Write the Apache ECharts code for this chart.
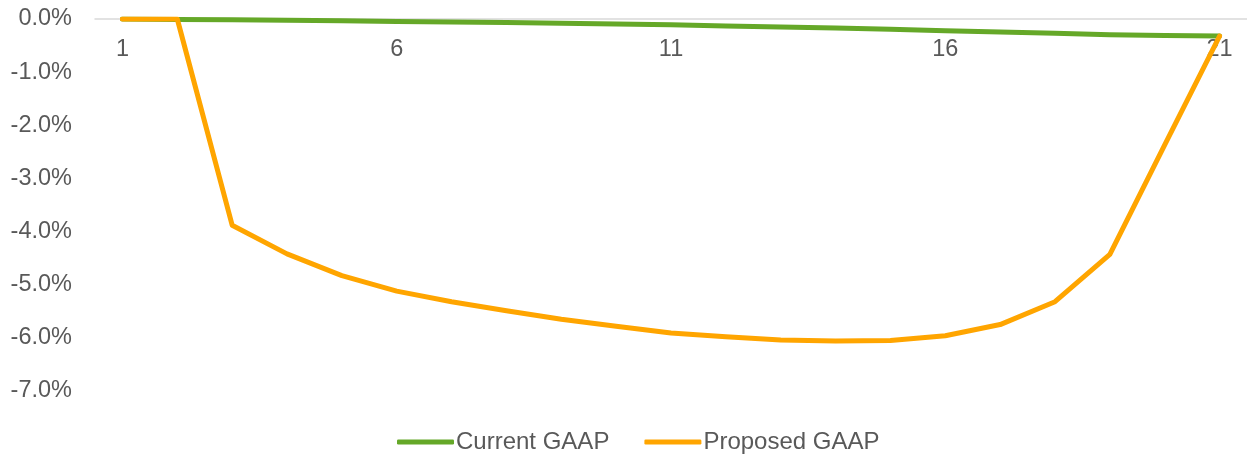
<!DOCTYPE html>
<html>
<head>
<meta charset="utf-8">
<script src="https://cdn.jsdelivr.net/npm/echarts@6/dist/echarts.min.js"></script>
<style>
  html, body { margin: 0; padding: 0; background: #fff; }
  #chart { width: 1247px; height: 454px; }
</style>
</head>
<body>
<div id="chart"></div>
<script>
// Periods 1..21
const periods = Array.from({ length: 21 }, (_, i) => String(i + 1));

// Change in value, percent
const currentGaap = [0, -0.01, -0.015, -0.025, -0.035, -0.045, -0.055, -0.065, -0.08, -0.095,
  -0.11, -0.13, -0.15, -0.17, -0.195, -0.22, -0.245, -0.27, -0.295, -0.31, -0.32];
const proposedGaap = [0, 0, -3.88, -4.42, -4.83, -5.12, -5.32, -5.49, -5.65, -5.78,
  -5.91, -5.98, -6.04, -6.06, -6.05, -5.96, -5.75, -5.32, -4.43, -2.37, -0.32];

const yMin = -7, yMax = 0, yStep = 1;

const textColor = '#595959';
const font = '"Liberation Sans", Arial, sans-serif';

const chart = echarts.init(document.getElementById('chart'));
chart.setOption({
  animation: false,
  grid: { left: 95, right: 0, top: 19, bottom: 63, containLabel: false },
  xAxis: {
    type: 'category',
    data: periods,
    position: 'top',
    boundaryGap: true,
    axisLine: { onZero: false, lineStyle: { color: '#d9d9d9', width: 1.5 } },
    axisTick: { show: false },
    axisLabel: { interval: 4, inside: true, color: textColor, fontFamily: font, fontSize: 23.5, margin: 19 },
    splitLine: { show: false }
  },
  yAxis: {
    type: 'value',
    min: yMin, max: yMax, interval: yStep,
    axisLine: { show: false },
    axisTick: { show: false },
    splitLine: { show: false },
    axisLabel: {
      color: textColor, fontFamily: font, fontSize: 23.5, margin: 23,
      formatter: v => v.toFixed(1) + '%'
    }
  },
  legend: {
    top: 425,
    left: 392,
    icon: 'roundRect',
    itemWidth: 57,
    itemHeight: 5,
    itemGap: 35,
    textStyle: { color: textColor, fontFamily: font, fontSize: 24, padding: [0, 0, 0, -3] },
    data: ['Current GAAP', 'Proposed GAAP']
  },
  series: [
    {
      name: 'Current GAAP',
      type: 'line',
      data: currentGaap,
      symbol: 'none',
      color: '#65a828',
      lineStyle: { width: 5, color: '#65a828', cap: 'round', join: 'round' }
    },
    {
      name: 'Proposed GAAP',
      type: 'line',
      data: proposedGaap,
      symbol: 'none',
      color: '#ffa500',
      lineStyle: { width: 5, color: '#ffa500', cap: 'round', join: 'round' }
    }
  ]
});
</script>
</body>
</html>
